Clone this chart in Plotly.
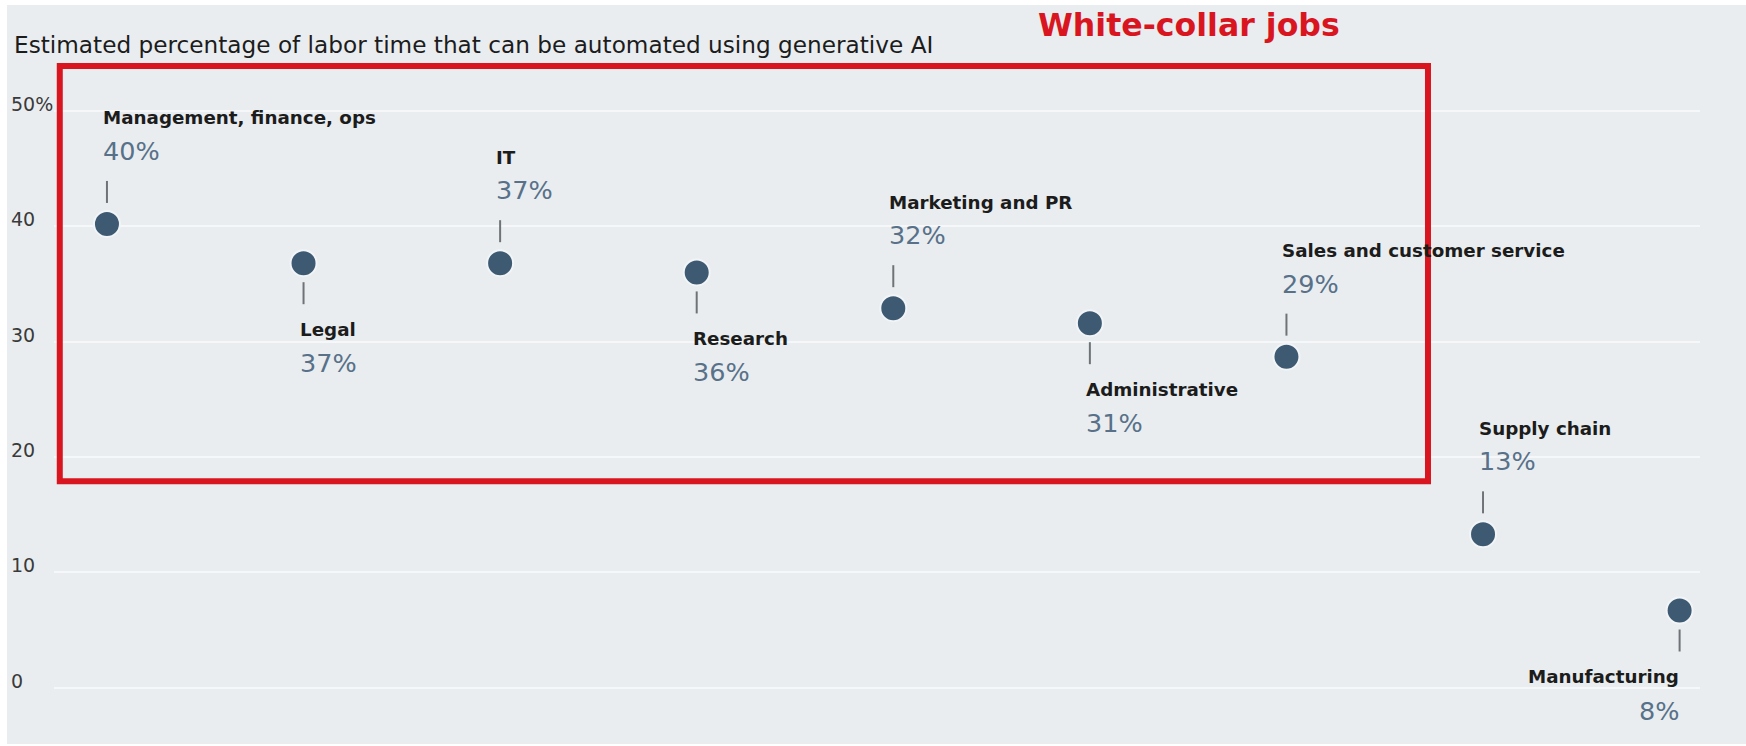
import plotly.graph_objects as go

# ---------------- data ----------------
categories = [
    "Management, finance, ops",
    "Legal",
    "IT",
    "Research",
    "Marketing and PR",
    "Administrative",
    "Sales and customer service",
    "Supply chain",
    "Manufacturing",
]
values = [40.2, 36.8, 36.8, 36.0, 32.9, 31.6, 28.7, 13.3, 6.7]
pct_labels = ["40%", "37%", "37%", "36%", "32%", "31%", "29%", "13%", "8%"]
label_side = ["above", "below", "above", "below", "above", "below", "above", "above", "below"]
y_tick_vals = [0, 10, 20, 30, 40, 50]
y_tick_text = ["0", "10", "20", "30", "40", "50%"]
title_text = "Estimated percentage of labor time that can be automated using generative AI"
box_title = "White-collar jobs"
white_collar_count = 7

# ---------------- layout geometry ----------------
W, H = 1746, 746
ML, MR, MT, MB = 54, 46, 30, 16
PW, PH = W - ML - MR, H - MT - MB


def px_x(px):
    return (px - ML) / PW


def px_y(py):
    return (H - MB - py) / PH


BG = "#e9edf0"
DOT = "#3e5a72"
PCT = "#587189"
NAME = "#1c1c1c"
RED = "#d9161f"
FONT = "DejaVu Sans"

fig = go.Figure()

fig.add_trace(
    go.Scatter(
        x=list(range(len(categories))),
        y=values,
        mode="markers",
        marker=dict(size=26, color=DOT, line=dict(color="#f2f5f7", width=2)),
        hoverinfo="skip",
        showlegend=False,
    )
)

shapes = []
# gray background panel (thin white frame around)
shapes.append(
    dict(
        type="rect", xref="paper", yref="paper",
        x0=px_x(7), x1=px_x(W + 5), y0=px_y(H - 2), y1=px_y(5),
        fillcolor=BG, line=dict(width=0), layer="below",
    )
)

annotations = []
for i, (name, v, p, side) in enumerate(zip(categories, values, pct_labels, label_side)):
    if side == "above":
        s0, s1, yn, yp = 21, 43, 106, 73
    else:
        s0, s1, yn, yp = -19, -41, -66, -100
    shapes.append(
        dict(
            type="line", xref="x", yref="y", ysizemode="pixel", yanchor=v,
            x0=i, x1=i, y0=s0, y1=s1,
            line=dict(color="#6f7377", width=2),
        )
    )
    right = i == len(categories) - 1
    xa = "right" if right else "left"
    xs = 1 if right else -6
    annotations.append(
        dict(
            x=i, y=v, xref="x", yref="y", text=name, showarrow=False,
            xanchor=xa, yanchor="middle", xshift=xs, yshift=yn,
            font=dict(family=FONT, size=18.3, color=NAME, weight=700),
        )
    )
    annotations.append(
        dict(
            x=i, y=v, xref="x", yref="y", text=p, showarrow=False,
            xanchor=xa, yanchor="middle", xshift=xs, yshift=yp,
            font=dict(family=FONT, size=25.5, color=PCT),
        )
    )

# y tick labels, left aligned
for tv, tt in zip(y_tick_vals, y_tick_text):
    annotations.append(
        dict(
            x=px_x(9), y=tv, xref="paper", yref="y", text=tt, showarrow=False,
            xanchor="left", yanchor="middle", yshift=7,
            font=dict(family=FONT, size=19, color="#3a3a3a"),
        )
    )

# chart title
annotations.append(
    dict(
        x=px_x(12), y=px_y(44), xref="paper", yref="paper", text=title_text,
        showarrow=False, xanchor="left", yanchor="middle",
        font=dict(family=FONT, size=23.2, color="#1c1c1c"),
    )
)

# red highlight box around the white-collar categories
shapes.append(
    dict(
        type="rect", xref="x", yref="y",
        x0=-0.24, x1=white_collar_count - 1 + 0.72, y0=17.9, y1=53.9,
        line=dict(color=RED, width=6), fillcolor="rgba(0,0,0,0)", layer="above",
    )
)
annotations.append(
    dict(
        x=px_x(1036), y=px_y(25), xref="paper", yref="paper", text=box_title,
        showarrow=False, xanchor="left", yanchor="middle",
        font=dict(family=FONT, size=31.6, color=RED, weight=700),
    )
)

fig.update_layout(
    width=W, height=H, autosize=False,
    margin=dict(l=ML, r=MR, t=MT, b=MB, pad=0),
    paper_bgcolor="white",
    plot_bgcolor="rgba(0,0,0,0)",
    shapes=shapes,
    annotations=annotations,
    showlegend=False,
    xaxis=dict(
        range=[-0.2694, 8.1037], showgrid=False, zeroline=False,
        showticklabels=False, ticks="", showline=False, fixedrange=True,
    ),
    yaxis=dict(
        range=[-3.657, 57.01], tickvals=y_tick_vals, showticklabels=False,
        showgrid=True, gridcolor="#f5f7f9", gridwidth=2, zeroline=False,
        ticks="", showline=False, fixedrange=True,
    ),
)

fig.write_html(
    "out.html",
    config={"displayModeBar": False},
    post_script="document.body.style.margin='0';document.body.style.overflow='hidden';",
)
